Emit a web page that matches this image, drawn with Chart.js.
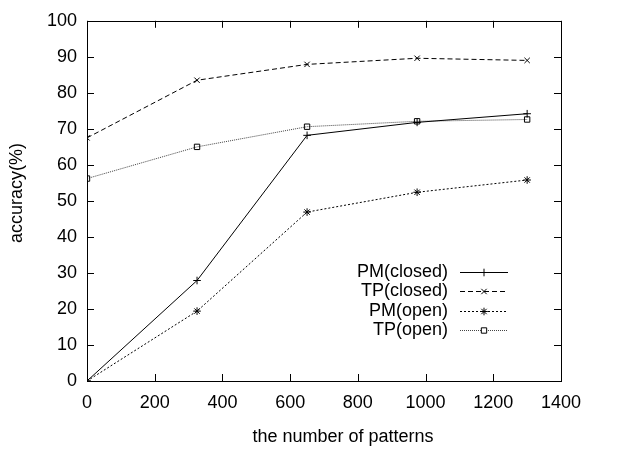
<!DOCTYPE html>
<html lang="en">
<head>
    <meta charset="UTF-8">
    <title>accuracy vs number of patterns</title>
    <style>
        body {
            margin: 0;
            padding: 0;
            background: #fff;
        }
        #chart {
            display: block;
        }
    </style>
</head>
<body>
    <canvas id="chart" width="620" height="450"></canvas>

    <script src="https://cdn.jsdelivr.net/npm/chart.js"></script>
    <script>
        // values
        const patterns = [0, 325, 650, 975, 1300];
        const pmClosed = [0, 27.9, 68.2, 71.8, 74.2];
        const tpClosed = [67.5, 83.5, 87.9, 89.6, 89.0];
        const pmOpen = [0, 19.4, 46.9, 52.4, 55.8];
        const tpOpen = [56.2, 65.0, 70.6, 72.1, 72.6];
        const seriesNames = ['PM(closed)', 'TP(closed)', 'PM(open)', 'TP(open)'];
        const xTicks = [0, 200, 400, 600, 800, 1000, 1200, 1400];
        const yTicks = [0, 10, 20, 30, 40, 50, 60, 70, 80, 90, 100];

        const FONT = '"Liberation Sans", Arial, sans-serif';
        const FONT_SIZE = 18;

        function toPoints(values) {
            return values.map((v, i) => ({ x: patterns[i], y: v }));
        }

        const styles = [
            { dash: [], point: 'cross', color: '#000' },
            { dash: [5, 3], point: 'crossRot', color: '#000' },
            { dash: [2, 2], point: 'star', color: '#000' },
            { dash: [1, 1], point: 'rect', color: '#444' }
        ];
        const series = [pmClosed, tpClosed, pmOpen, tpOpen];

        const datasets = series.map((values, i) => ({
            label: seriesNames[i],
            data: toPoints(values),
            borderColor: styles[i].color,
            backgroundColor: 'rgba(0,0,0,0)',
            borderWidth: 1,
            borderDash: styles[i].dash,
            pointStyle: styles[i].point,
            pointRadius: 3.8,
            pointBorderWidth: 1,
            pointBorderColor: '#000',
            pointBackgroundColor: 'rgba(0,0,0,0)',
            tension: 0,
            fill: false
        }));

        // gnuplot style: box, inward ticks, axis titles, legend inside the plot
        const gnuplotFrame = {
            id: 'gnuplotFrame',
            afterDatasetsDraw(chart) {
                const ctx = chart.ctx;
                const area = chart.chartArea;
                const xs = chart.scales.x;
                const ys = chart.scales.y;
                const tick = 7;

                ctx.save();
                ctx.strokeStyle = '#000';
                ctx.lineWidth = 1;
                ctx.setLineDash([]);
                ctx.beginPath();
                xTicks.forEach(v => {
                    const px = Math.round(xs.getPixelForValue(v)) + 0.5;
                    ctx.moveTo(px, area.bottom);
                    ctx.lineTo(px, area.bottom - tick);
                    ctx.moveTo(px, area.top);
                    ctx.lineTo(px, area.top + tick);
                });
                yTicks.forEach(v => {
                    const py = Math.round(ys.getPixelForValue(v)) + 0.5;
                    ctx.moveTo(area.left, py);
                    ctx.lineTo(area.left + tick, py);
                    ctx.moveTo(area.right, py);
                    ctx.lineTo(area.right - tick, py);
                });
                ctx.stroke();
                ctx.strokeRect(Math.round(area.left) + 0.5, Math.round(area.top) + 0.5,
                    Math.round(area.right - area.left), Math.round(area.bottom - area.top));

                // axis titles
                ctx.fillStyle = '#000';
                ctx.font = FONT_SIZE + 'px ' + FONT;
                ctx.textAlign = 'center';
                ctx.textBaseline = 'middle';
                ctx.fillText('the number of patterns', 343, 437);
                ctx.save();
                ctx.translate(17, 193);
                ctx.rotate(-Math.PI / 2);
                ctx.fillText('accuracy(%)', 0, 0);
                ctx.restore();

                // legend
                const textRight = 448;
                const lineLeft = 460;
                const lineRight = 508;
                const top = 272;
                const step = 19.3;
                chart.data.datasets.forEach((ds, i) => {
                    const y = Math.round(top + i * step) + 0.5;
                    ctx.fillStyle = '#000';
                    ctx.textAlign = 'right';
                    ctx.fillText(ds.label, textRight, y);
                    ctx.strokeStyle = ds.borderColor;
                    ctx.setLineDash(ds.borderDash);
                    ctx.beginPath();
                    ctx.moveTo(lineLeft, y);
                    ctx.lineTo(lineRight, y);
                    ctx.stroke();
                    ctx.setLineDash([]);
                    ctx.strokeStyle = '#000';
                    ctx.fillStyle = '#fff';
                    Chart.helpers.drawPoint(ctx, {
                        pointStyle: ds.pointStyle,
                        radius: ds.pointRadius,
                        borderWidth: 1,
                        rotation: 0
                    }, (lineLeft + lineRight) / 2, y);
                });
                ctx.restore();
            }
        };

        const ctx = document.getElementById('chart').getContext('2d');
        new Chart(ctx, {
            type: 'line',
            data: { datasets: datasets },
            options: {
                responsive: false,
                animation: false,
                layout: {
                    padding: { top: 16, right: 59, left: 0, bottom: 0 }
                },
                plugins: {
                    legend: { display: false },
                    tooltip: { enabled: false }
                },
                scales: {
                    x: {
                        type: 'linear',
                        min: 0,
                        max: 1400,
                        afterBuildTicks: scale => { scale.ticks = xTicks.map(v => ({ value: v })); },
                        afterFit: scale => { scale.height = 69; },
                        grid: { display: false, drawTicks: false },
                        border: { display: false },
                        ticks: {
                            color: '#000',
                            padding: 11,
                            maxRotation: 0,
                            callback: v => String(v),
                            font: { family: FONT, size: FONT_SIZE }
                        }
                    },
                    y: {
                        type: 'linear',
                        min: 0,
                        max: 100,
                        afterBuildTicks: scale => { scale.ticks = yTicks.map(v => ({ value: v })); },
                        afterFit: scale => { scale.width = 87; },
                        grid: { display: false, drawTicks: false },
                        border: { display: false },
                        ticks: {
                            color: '#000',
                            padding: 10,
                            callback: v => String(v),
                            font: { family: FONT, size: FONT_SIZE }
                        }
                    }
                }
            },
            plugins: [gnuplotFrame]
        });
    </script>
</body>
</html>
